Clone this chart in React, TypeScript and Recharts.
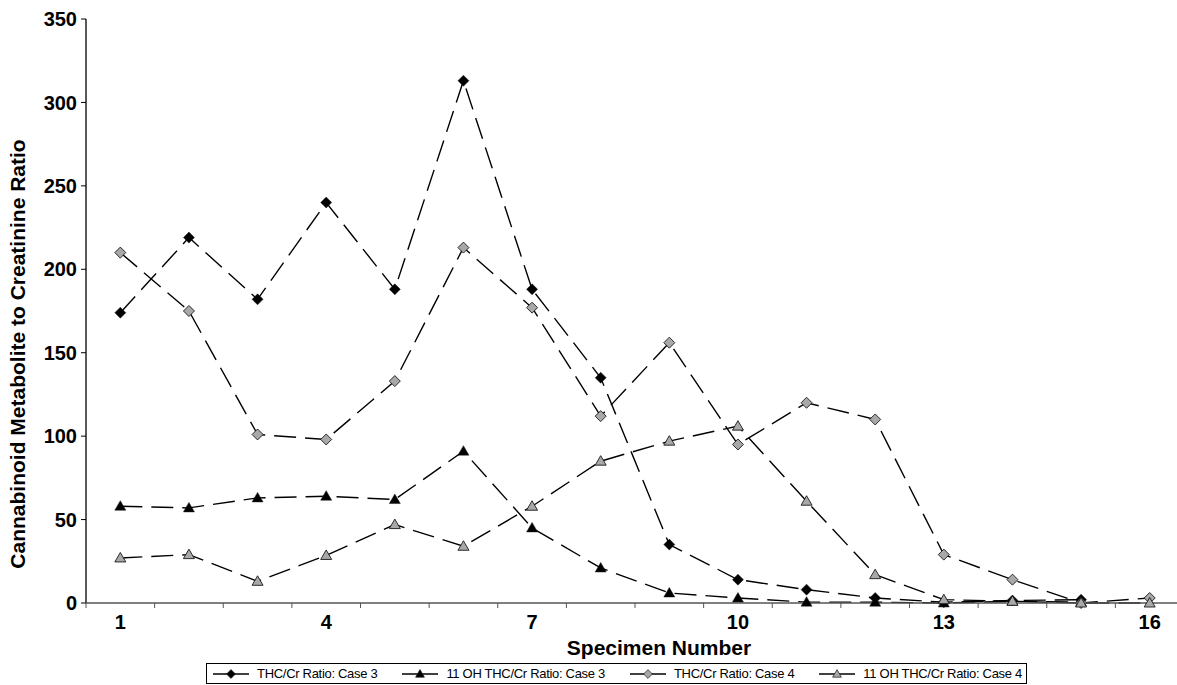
import React from "react";
import { LineChart, Line, XAxis, YAxis, Legend } from "recharts";

// --- Data ---

const specimens = [1, 2, 3, 4, 5, 6, 7, 8, 9, 10, 11, 12, 13, 14, 15, 16];
const thcCase3 = [174, 219, 182, 240, 188, 313, 188, 135, 35, 14, 8, 3, 0.5, 1.5, 2, null];
const ohCase3 = [58, 57, 63, 64, 62, 91, 45, 21, 6, 3, 0.5, 0.5, 0, 1, 0.5, null];
const thcCase4 = [210, 175, 101, 98, 133, 213, 177, 112, 156, 95, 120, 110, 29, 14, 0, 3];
const ohCase4 = [27, 29, 13, 28.5, 47, 34, 58, 85, 97, 106, 61, 17, 2, 1, 0, 0];

const yTicks = [0, 50, 100, 150, 200, 250, 300, 350];
const xLabelTicks = [1, 4, 7, 10, 13, 16];
const xBoundaryTicks = [0.5, 1.5, 2.5, 3.5, 4.5, 5.5, 6.5, 7.5, 8.5, 9.5, 10.5, 11.5, 12.5, 13.5, 14.5, 15.5, 16.5];

const data = specimens.map((n, i) => ({
  n,
  thc3: thcCase3[i],
  oh3: ohCase3[i],
  thc4: thcCase4[i],
  oh4: ohCase4[i],
}));

const FONT = '"Liberation Sans", Arial, Helvetica, sans-serif';

const SERIES = [
  { key: "thc3", name: "THC/Cr Ratio: Case 3", shape: "diamond", fill: "#000000" },
  { key: "oh3", name: "11 OH THC/Cr Ratio: Case 3", shape: "triangle", fill: "#000000" },
  { key: "thc4", name: "THC/Cr Ratio: Case 4", shape: "diamond", fill: "#a8a8a8" },
  { key: "oh4", name: "11 OH THC/Cr Ratio: Case 4", shape: "triangle", fill: "#a8a8a8" },
];

// --- Markers ---

const markerPath = (shape: string, cx: number, cy: number, s = 1) => {
  if (shape === "diamond") {
    const r = 5.5 * s;
    return `M${cx},${cy - r} L${cx + r},${cy} L${cx},${cy + r} L${cx - r},${cy} Z`;
  }
  const w = 5.5 * s;
  return `M${cx},${cy - 5.5 * s} L${cx + w},${cy + 4 * s} L${cx - w},${cy + 4 * s} Z`;
};

const makeDot = (shape: string, fill: string) => (props: any) => {
  const { cx, cy, index } = props;
  if (cx == null || cy == null || props.value == null) return <g key={`e-${index}`} />;
  return (
    <path
      key={`m-${index}`}
      d={markerPath(shape, cx, cy)}
      fill={fill}
      stroke="#1a1a1a"
      strokeWidth={fill === "#000000" ? 0.5 : 0.9}
    />
  );
};

// --- Legend ---

const LegendBox = (props: any) => {
  const payload = props.payload || [];
  return (
    <div style={{ paddingTop: 6, height: 28, boxSizing: "border-box" }}>
      <div
        style={{
          height: 21,
          boxSizing: "border-box",
          border: "1px solid #000",
          display: "flex",
          alignItems: "center",
          justifyContent: "space-between",
          padding: "0 4px 0 6px",
          fontFamily: FONT,
          fontSize: 13,
          letterSpacing: -0.3,
          color: "#000",
          background: "#fff",
        }}
      >
        {SERIES.map((s) => {
          const p = payload.find((x: any) => x.dataKey === s.key);
          return (
            <div key={s.key} style={{ display: "flex", alignItems: "center" }}>
              <svg width={36} height={14} style={{ display: "block" }}>
                <line x1={0} y1={7} x2={36} y2={7} stroke="#000" strokeWidth={1.3} />
                <path d={markerPath(s.shape, 18, 7, 0.8)} fill={s.fill} stroke="#1a1a1a" strokeWidth={0.7} />
              </svg>
              <span style={{ marginLeft: 8, whiteSpace: "nowrap" }}>{p ? p.value : s.name}</span>
            </div>
          );
        })}
      </div>
    </div>
  );
};

const YTitle = () => (
  <text
    x={17}
    y={354}
    transform="rotate(-90, 17, 354)"
    textAnchor="middle"
    dominantBaseline="central"
    fontFamily={FONT}
    fontWeight="bold"
    fontSize={21}
    fill="#000"
  >
    Cannabinoid Metabolite to Creatinine Ratio
  </text>
);

const XTitle = (props: any) => {
  const vb = props.viewBox || {};
  return (
    <text
      x={vb.x + vb.width / 2 + 24}
      y={vb.y + 46}
      textAnchor="middle"
      fontFamily={FONT}
      fontWeight="bold"
      fontSize={21}
      fill="#000"
    >
      Specimen Number
    </text>
  );
};

export default function App() {
  return (
    <div style={{ position: "absolute", left: 0, top: 0, width: 1177, height: 685, overflow: "hidden", background: "#fff" }}>
      <LineChart width={1184} height={685} data={data} margin={{ top: 19, right: 0, left: 0, bottom: 0 }}>
        <YAxis
          width={86}
          domain={[0, 350]}
          ticks={yTicks}
          interval={0}
          axisLine={{ stroke: "#000", strokeWidth: 1.3 }}
          tickLine={{ stroke: "#000", strokeWidth: 1 }}
          tickSize={5}
          tickMargin={4}
          tick={{ fontFamily: FONT, fontWeight: "bold", fontSize: 20, fill: "#000" }}
          label={<YTitle />}
        />
        <XAxis
          xAxisId={0}
          dataKey="n"
          type="number"
          domain={[0.5, 16.5]}
          ticks={xBoundaryTicks}
          interval={0}
          height={6}
          axisLine={{ stroke: "#555", strokeWidth: 1.3 }}
          tickLine={{ stroke: "#555", strokeWidth: 1 }}
          tickSize={5}
          tickFormatter={() => ""}
        />
        <XAxis
          xAxisId={1}
          dataKey="n"
          type="number"
          domain={[0.5, 16.5]}
          ticks={xLabelTicks}
          interval={0}
          height={48}
          axisLine={false}
          tickLine={false}
          tickSize={0}
          tickMargin={6}
          tick={{ fontFamily: FONT, fontWeight: "bold", fontSize: 20, fill: "#000" }}
          label={<XTitle />}
        />
        <Legend
          verticalAlign="bottom"
          content={<LegendBox />}
          wrapperStyle={{ left: 206, width: 821, bottom: 0 }}
        />
        {SERIES.map((s) => (
          <Line
            key={s.key}
            xAxisId={0}
            dataKey={s.key}
            name={s.name}
            type="linear"
            stroke="#000"
            strokeWidth={1.4}
            strokeDasharray="22 9"
            dot={makeDot(s.shape, s.fill)}
            activeDot={false}
            legendType="line"
            isAnimationActive={false}
          />
        ))}
      </LineChart>
    </div>
  );
}
